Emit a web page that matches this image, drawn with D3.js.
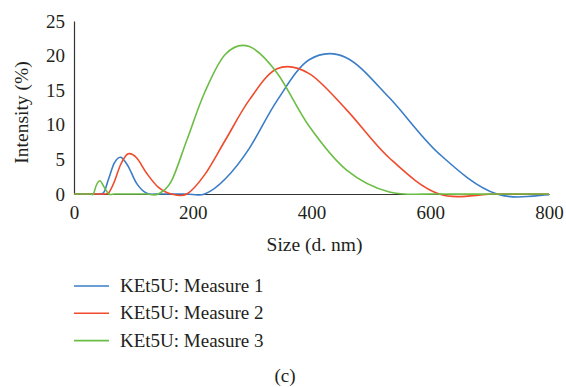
<!DOCTYPE html>
<html lang="en">
<head>
  <meta charset="UTF-8">
  <title>KEt5U size distribution</title>
  <style>
    body {
      margin: 0;
      background-color: #fff;
    }
    svg text {
      font-family: "Liberation Serif", "Times New Roman", serif;
      fill: #231f20;
    }
  </style>
</head>
<body>
  <div id="chart"></div>

  <script src="https://d3js.org/d3.v7.min.js"></script>
  <script>
    // size bins (d. nm), shared by all three measures
    const sizes = [0.4, 4.849, 10.10, 15.69, 21.04, 28.21, 32.67, 37.84, 43.82, 50.75, 58.77, 68.06,
      78.82, 91.28, 105.7, 122.4, 141.8, 164.2, 190.1, 220.2, 255.0, 295.3, 342.0, 396.1,
      458.7, 531.2, 615.1, 712.4, 825.0, 955.4];

    const measure1 = [0, 0, 0, 0, 0, 0, 0, 0, 0, 0.3, 2.3, 4.5,
      5.3, 4.0, 1.5, 0.1, 0, 0, 0, 0, 2.2, 6.6, 13.5, 19.4,
      19.7, 13.9, 5.8, 0, 0, 0];

    const measure2 = [0, 0, 0, 0, 0, 0, 0, 0, 0, 0, 0.2, 1.8,
      4.3, 5.8, 5.2, 3.0, 1.0, 0, 0, 2.8, 7.8, 13.6, 18.1, 17.4,
      12.2, 5.2, 0, 0, 0, 0];

    const measure3 = [0, 0, 0, 0, 0, 0, 0, 1.3, 1.9, 1.0, 0, 0,
      0, 0, 0, 0, 0, 1.9, 7.8, 14.7, 20.2, 21.3, 17.5, 9.8,
      3.5, 0.3, 0, 0, 0, 0];

    const seriesNames = ["KEt5U: Measure 1", "KEt5U: Measure 2", "KEt5U: Measure 3"];
    const seriesColors = ["#3a7dc8", "#f04b2d", "#6cbd45"];
    const xTicks = [0, 200, 400, 600, 800];
    const yTicks = [0, 5, 10, 15, 20, 25];

    const width = 566;
    const height = 387;
    const margin = { top: 21, right: 17, bottom: 193, left: 74 };
    const font = "\"Liberation Serif\", \"Times New Roman\", serif";

    const svg = d3.select("#chart")
      .append("svg")
      .attr("width", width)
      .attr("height", height)
      .attr("font-family", font);

    const x = d3.scaleLinear()
      .domain([0, 800])
      .range([margin.left, width - margin.right]);

    const y = d3.scaleLinear()
      .domain([0, 25])
      .range([height - margin.bottom, margin.top]);

    svg.append("defs").append("clipPath")
      .attr("id", "plot-clip")
      .append("rect")
      .attr("x", x(0))
      .attr("y", 0)
      .attr("width", x(800) - x(0))
      .attr("height", height);

    // axes: plain lines, no tick marks
    const xAxis = svg.append("g")
      .attr("transform", `translate(0,${y(0)})`)
      .call(d3.axisBottom(x).tickValues(xTicks).tickSize(0).tickPadding(12));

    const yAxis = svg.append("g")
      .attr("transform", `translate(${x(0)},0)`)
      .call(d3.axisLeft(y).tickValues(yTicks).tickSize(0).tickPadding(9));

    [xAxis, yAxis].forEach(g => {
      g.attr("font-family", font);
      g.select(".domain").attr("stroke", "#333").attr("stroke-width", 1.2);
      g.selectAll("text")
        .attr("font-family", font)
        .style("font-size", "19px")
        .attr("fill", "#231f20");
    });

    svg.append("text")
      .attr("x", (x(0) + x(800)) / 2 + 3)
      .attr("y", 251)
      .attr("text-anchor", "middle")
      .style("font-size", "19.5px")
      .text("Size (d. nm)");

    svg.append("text")
      .attr("transform", `translate(28,${(y(0) + y(25)) / 2 + 5}) rotate(-90)`)
      .attr("text-anchor", "middle")
      .style("font-size", "19.5px")
      .text("Intensity (%)");

    const line = d3.line()
      .x((d, i) => x(sizes[i]))
      .y(d => y(d))
      .curve(d3.curveCatmullRom.alpha(0));

    const allSeries = [measure1, measure2, measure3];

    svg.append("g")
      .attr("clip-path", "url(#plot-clip)")
      .selectAll("path")
      .data(allSeries)
      .enter()
      .append("path")
      .attr("d", line)
      .attr("fill", "none")
      .attr("stroke", (d, i) => seriesColors[i])
      .attr("stroke-width", 1.6);

    // legend
    const legend = svg.append("g")
      .selectAll("g")
      .data(seriesNames)
      .enter()
      .append("g")
      .attr("transform", (d, i) => `translate(74,${286 + i * 27.3})`);

    legend.append("line")
      .attr("x1", 0)
      .attr("x2", 35)
      .attr("stroke", (d, i) => seriesColors[i])
      .attr("stroke-width", 1.6);

    legend.append("text")
      .attr("x", 46)
      .attr("y", 6)
      .style("font-size", "19px")
      .text(d => d);

    svg.append("text")
      .attr("x", 285)
      .attr("y", 382)
      .attr("text-anchor", "middle")
      .style("font-size", "19px")
      .text("(c)");
  </script>
</body>
</html>
